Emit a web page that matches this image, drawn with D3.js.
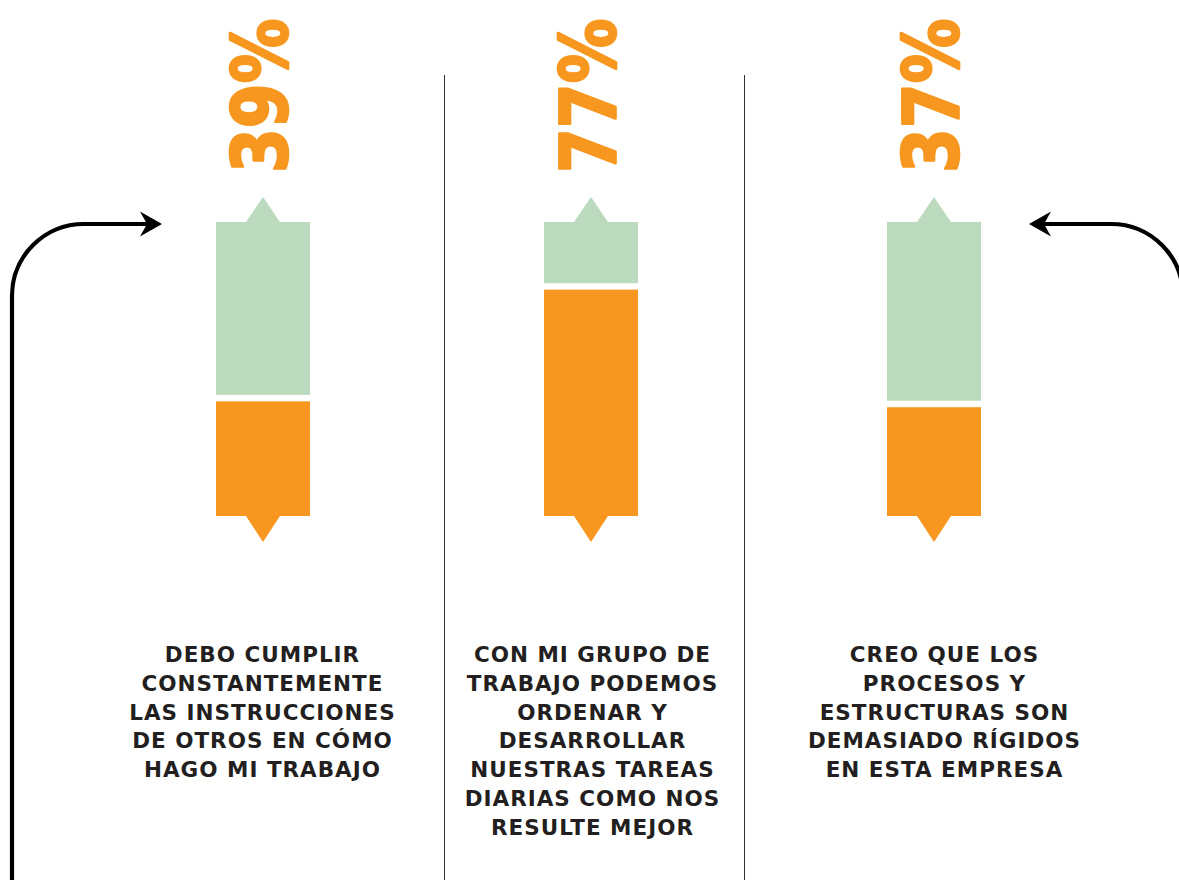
<!DOCTYPE html>
<html>
<head>
<meta charset="utf-8">
<script src="https://cdn.jsdelivr.net/npm/d3@7"></script>
<style>
  html, body { margin: 0; padding: 0; background: #ffffff; }
  svg { display: block; }
</style>
</head>
<body>
<script>
// ---- data ----
const categories = ["q1", "q2", "q3"];
const values = [39, 77, 37];
const percentLabels = ["39%", "77%", "37%"];
const statements = [
  ["DEBO CUMPLIR", "CONSTANTEMENTE", "LAS INSTRUCCIONES", "DE OTROS EN CÓMO", "HAGO MI TRABAJO"],
  ["CON MI GRUPO DE", "TRABAJO PODEMOS", "ORDENAR Y", "DESARROLLAR", "NUESTRAS TAREAS", "DIARIAS COMO NOS", "RESULTE MEJOR"],
  ["CREO QUE LOS", "PROCESOS Y", "ESTRUCTURAS SON", "DEMASIADO RÍGIDOS", "EN ESTA EMPRESA"]
];

const W = 1179, H = 880;
const ORANGE = "#F7971F", GREEN = "#BBDABE", DARK = "#231F20";

const svg = d3.select("body").append("svg").attr("width", W).attr("height", H);

// scales
const x = d3.scaleOrdinal().domain(categories).range([263, 591, 934]);
const textX = d3.scaleOrdinal().domain(categories).range([262, 592, 944]);
const y = d3.scaleLinear().domain([0, 100]).range([516, 222]);
const barW = 94, gap = 6.5, triHalf = 17, triH = 25;

// dividers
[444.5, 744.5].forEach(dx => {
  svg.append("line").attr("x1", dx).attr("x2", dx).attr("y1", 75).attr("y2", H)
    .attr("stroke", "#333").attr("stroke-width", 1);
});

const data = categories.map((c, i) => ({ c, v: values[i], label: percentLabels[i], lines: statements[i] }));
const g = svg.selectAll("g.bar").data(data).join("g").attr("class", "bar");

// green (remainder) part
g.append("rect")
  .attr("x", d => x(d.c) - barW / 2)
  .attr("width", barW)
  .attr("y", y(100))
  .attr("height", d => y(d.v) - gap - y(100))
  .attr("fill", GREEN);
// top triangle
g.append("path")
  .attr("d", d => `M${x(d.c) - triHalf},${y(100)} L${x(d.c)},${y(100) - triH} L${x(d.c) + triHalf},${y(100)} Z`)
  .attr("fill", GREEN);
// orange (value) part
g.append("rect")
  .attr("x", d => x(d.c) - barW / 2)
  .attr("width", barW)
  .attr("y", d => y(d.v))
  .attr("height", d => y(0) - y(d.v))
  .attr("fill", ORANGE);
// bottom triangle
g.append("path")
  .attr("d", d => `M${x(d.c) - triHalf},${y(0)} L${x(d.c)},${y(0) + triH + 1} L${x(d.c) + triHalf},${y(0)} Z`)
  .attr("fill", ORANGE);

// rotated percentage labels
g.append("text")
  .attr("transform", d => `translate(${x(d.c) + 24},173) rotate(-90) scale(1,1.2)`)
  .attr("text-anchor", "start")
  .attr("font-family", "'DejaVu Sans', sans-serif")
  .attr("font-weight", "bold")
  .attr("font-size", 64.5)
  .attr("fill", ORANGE)
  .attr("stroke", ORANGE)
  .attr("stroke-width", 2.2)
  .attr("stroke-linejoin", "round")
  .text(d => d.label);

// statements
g.append("text")
  .attr("text-anchor", "middle")
  .attr("font-family", "'DejaVu Sans', sans-serif")
  .attr("font-weight", "bold")
  .attr("font-size", 21.5)
  .attr("letter-spacing", 1)
  .attr("fill", DARK)
  .selectAll("tspan")
  .data(d => d.lines.map(l => ({ l, cx: textX(d.c) })))
  .join("tspan")
  .attr("x", t => t.cx + 0.5)
  .attr("y", (t, i) => 662 + i * 28.8)
  .text(t => t.l);

// curved arrows
const arrowG = svg.append("g");
arrowG.append("path")
  .attr("d", "M12,885 V296 A72,72 0 0 1 84,224 H150")
  .attr("fill", "none").attr("stroke", "#000").attr("stroke-width", 4.2);
arrowG.append("path")
  .attr("d", "M162,224 L140,211.5 L147,224 L140,236.5 Z")
  .attr("fill", "#000");
arrowG.append("path")
  .attr("d", "M1183,330 V296 A72,72 0 0 0 1111,224 H1041")
  .attr("fill", "none").attr("stroke", "#000").attr("stroke-width", 4.2);
arrowG.append("path")
  .attr("d", "M1029,224 L1051,211.5 L1044,224 L1051,236.5 Z")
  .attr("fill", "#000");
</script>
</body>
</html>
